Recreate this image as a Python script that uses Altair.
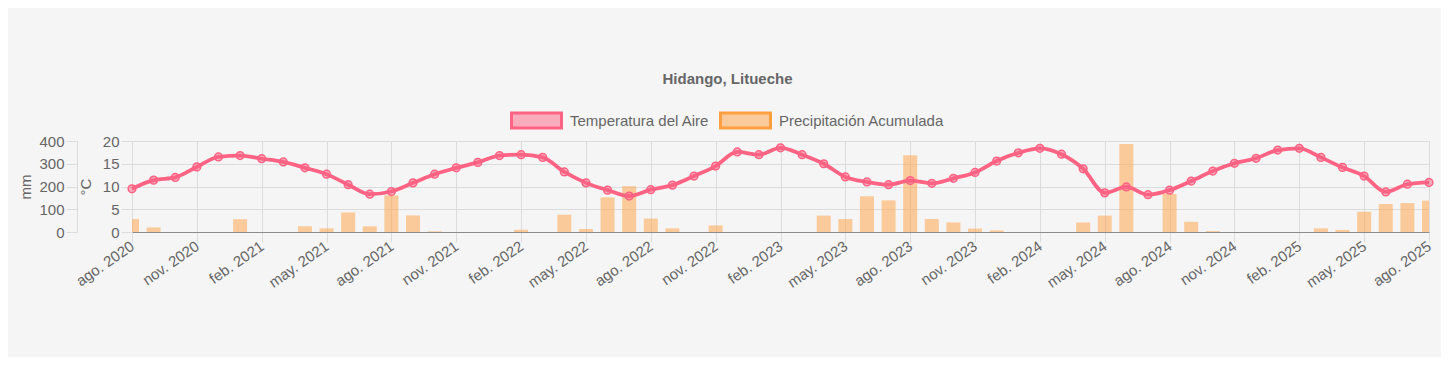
import json
import altair as alt
import pandas as pd

# ---- data ----
months = pd.date_range("2020-08-01", periods=61, freq="MS").strftime("%Y-%m").tolist()

tick_labels = [
    "ago. 2020", "nov. 2020", "feb. 2021", "may. 2021", "ago. 2021", "nov. 2021",
    "feb. 2022", "may. 2022", "ago. 2022", "nov. 2022", "feb. 2023", "may. 2023",
    "ago. 2023", "nov. 2023", "feb. 2024", "may. 2024", "ago. 2024", "nov. 2024",
    "feb. 2025", "may. 2025", "ago. 2025",
]

temperatura = [
    9.5, 11.4, 12.0, 14.3, 16.5, 16.8, 16.1, 15.4, 14.1, 12.7, 10.4, 8.3,
    8.9, 10.8, 12.7, 14.1, 15.3, 16.8, 17.0, 16.4, 13.2, 10.8, 9.2, 7.9,
    9.3, 10.3, 12.3, 14.5, 17.6, 17.0, 18.5, 17.0, 15.0, 12.1, 11.0, 10.4,
    11.3, 10.7, 11.8, 13.1, 15.6, 17.4, 18.4, 17.1, 13.9, 8.6, 9.9, 8.2,
    9.2, 11.2, 13.4, 15.1, 16.2, 18.0, 18.4, 16.4, 14.2, 12.3, 8.8, 10.5,
    10.9,
]

precipitacion = [
    57, 20, 0, 0, 0, 56, 0, 0, 25, 16, 86, 25,
    161, 73, 3, 0, 0, 0, 10, 0, 76, 13, 152, 201,
    59, 16, 0, 29, 0, 0, 0, 0, 72, 57, 157, 139,
    337, 57, 42, 15, 7, 0, 0, 0, 42, 72, 387, 0,
    167, 45, 4, 0, 0, 0, 0, 16, 9, 89, 123, 127,
    138,
]

series_names = ["Temperatura del Aire", "Precipitación Acumulada"]
series_colors = ["#ff6384", "#ff9f40"]
legend_fill = ["#faacbc", "#faca9b"]

temp_ticks = [0, 5, 10, 15, 20]
mm_ticks = [0, 100, 200, 300, 400]

df = pd.DataFrame({
    "mes": months,
    "idx": list(range(len(months))),
    "temp": temperatura,
    "precip": precipitacion,
})
leg_df = pd.DataFrame({"serie": series_names})

FONT = "Liberation Sans, Arial, Helvetica, sans-serif"
TXT = "#666666"
GRID = "#dcdcdc"
BOX = "M-1,-0.3H1V0.3H-1Z"

x_scale = alt.Scale(domain=[0, len(months) - 1], nice=False, zero=False, padding=0)

x_enc = alt.X(
    "idx:Q",
    scale=x_scale,
    axis=alt.Axis(
        values=list(range(0, len(months), 3)),
        labelExpr=json.dumps(tick_labels) + "[round(datum.value / 3)]",
        labelAngle=-35, labelAlign="right", labelBaseline="middle",
        labelFont=FONT, labelFontSize=15, labelColor=TXT, labelPadding=2,
        grid=True, gridColor=GRID, tickColor=GRID, tickSize=10,
        domainColor="#8c8c8c", title=None, labelOverlap=False,
    ),
)

bars = alt.Chart(df).mark_bar(color="#ff9f40", opacity=0.5, size=14, clip=True).encode(
    x=x_enc,
    y=alt.Y(
        "precip:Q",
        scale=alt.Scale(domain=[0, 400], nice=False),
        axis=alt.Axis(
            orient="left", offset=55, values=mm_ticks, grid=False,
            domainColor=GRID, tickColor=GRID, tickSize=11, labelPadding=2,
            labelFont=FONT, labelFontSize=15, labelColor=TXT,
            title="mm", titleFont=FONT, titleFontSize=15, titleFontWeight="normal",
            titleColor=TXT, titleX=-52, titleY=45.5, titleAlign="center", titleBaseline="middle",
        ),
    ),
)

line = alt.Chart(df).mark_line(
    color="#ff6384", strokeWidth=3.75, interpolate="monotone",
    point=alt.OverlayMarkDef(filled=True, fill="#ff6384", fillOpacity=0.5,
                             stroke="#ff6384", strokeWidth=1.5, size=60),
).encode(
    x=x_enc,
    y=alt.Y(
        "temp:Q",
        scale=alt.Scale(domain=[0, 20], nice=False),
        axis=alt.Axis(
            orient="left", values=temp_ticks, grid=True, gridColor=GRID,
            domain=False, tickColor=GRID, tickSize=11, labelPadding=2,
            labelFont=FONT, labelFontSize=15, labelColor=TXT,
            title="°C", titleFont=FONT, titleFontSize=15, titleFontWeight="normal",
            titleColor=TXT, titleX=-47, titleY=45.5, titleAlign="center", titleBaseline="middle",
        ),
    ),
)

leg = alt.Legend(
    title=None, orient="none", direction="horizontal", legendX=378, legendY=-47,
    symbolType=BOX, symbolSize=2500, symbolStrokeWidth=3,
    labelFont=FONT, labelFontSize=15, labelColor=TXT, labelOffset=7, labelLimit=0,
    columnPadding=4, padding=0,
)

legend_layer = alt.Chart(leg_df).transform_filter("false").mark_point(
    shape=BOX, filled=True, size=2500, strokeWidth=3, opacity=1,
).encode(
    fill=alt.Fill("serie:N", scale=alt.Scale(domain=series_names, range=legend_fill), legend=leg),
    stroke=alt.Stroke("serie:N", scale=alt.Scale(domain=series_names, range=series_colors), legend=leg),
)

chart = alt.layer(bars, line, legend_layer).resolve_scale(y="independent").properties(
    width=1297, height=91,
    padding={"left": 124, "top": 133, "right": 12, "bottom": 125},
    autosize=alt.AutoSizeParams(type="none"),
    background="#f5f5f5",
    title=alt.TitleParams(
        "Hidango, Litueche", font=FONT, fontSize=15, fontWeight="bold", color=TXT,
        anchor="middle", dx=-53, dy=-3,
    ),
).configure_view(stroke=None)

chart.save("out.html", embed_options={"renderer": "svg", "actions": False})
